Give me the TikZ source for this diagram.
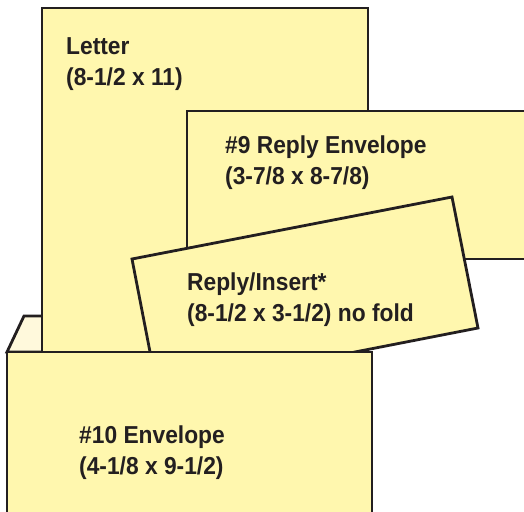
\documentclass[tikz,border=0pt]{standalone}
\usepackage{fontspec}
\newfontfamily\labfont{Liberation Sans}[FakeStretch=0.93]
\definecolor{paper}{HTML}{FFF7AE}
\definecolor{flapc}{HTML}{FFF9DC}
\definecolor{ink}{HTML}{231F20}
\begin{document}
\begin{tikzpicture}[x=1pt,y=-1pt,
  sheet/.style={draw=ink,line width=2.8pt,fill=paper,line join=miter},
  flapsheet/.style={draw=ink,line width=2.8pt,fill=flapc,line join=miter},
  lab/.style={anchor=base west,inner sep=0pt,align=left,text=ink,
    font=\labfont\bfseries\fontsize{24.5}{31}\selectfont}]
\useasboundingbox (0,0) rectangle (524,511);
\clip (0,0) rectangle (524,511);
% back flap of #10 envelope
\draw[flapsheet] (7,352) -- (24,316) -- (70,316) -- (70,352) -- cycle;
% letter
\draw[sheet] (42,8) rectangle (368,400);
% #9 reply envelope
\draw[sheet] (187,111) rectangle (540,259);
% reply / insert card
\draw[sheet] (132,259) -- (452,197) -- (478,328) -- (157.5,390.5) -- cycle;
% #10 envelope front
\draw[sheet] (7,352) rectangle (372,530);
% labels (anchor = baseline of the last line)
\node[lab] (letter) at (66,85) {Letter\\(8-1/2 x 11)};
\node[lab] (reply9) at (225,184) {\#9 Reply Envelope\\(3-7/8 x 8-7/8)};
\node[lab] (insert) at (187,321) {Reply/Insert*\\(8-1/2 x 3-1/2) no fold};
\node[lab] (env10) at (79,474) {\#10 Envelope\\(4-1/8 x 9-1/2)};
\end{tikzpicture}
\end{document}
